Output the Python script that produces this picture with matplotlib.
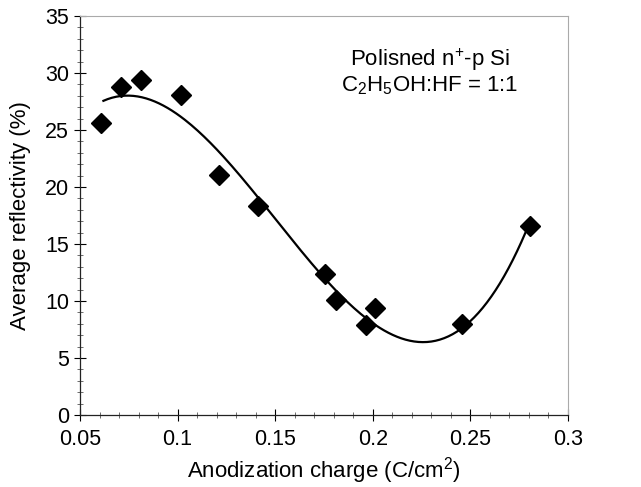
import numpy as np
import matplotlib
matplotlib.use("Agg")
import matplotlib.pyplot as plt
from matplotlib.ticker import MultipleLocator

plt.rcParams['font.family'] = ['Liberation Sans', 'DejaVu Sans']
plt.rcParams['mathtext.fontset'] = 'custom'
plt.rcParams['mathtext.rm'] = 'Liberation Sans'
plt.rcParams['mathtext.it'] = 'Liberation Sans:italic'
plt.rcParams['mathtext.bf'] = 'Liberation Sans:bold'

# Data
charge = [0.061, 0.071, 0.081, 0.102, 0.121, 0.141, 0.1755, 0.181, 0.1965, 0.201, 0.2455, 0.2805]
reflectivity = [25.6, 28.8, 29.4, 28.1, 21.05, 18.3, 12.4, 10.1, 7.9, 9.4, 8.0, 16.6]

xticks = [0.05, 0.1, 0.15, 0.2, 0.25, 0.3]
xticklabels = ['0.05', '0.1', '0.15', '0.2', '0.25', '0.3']
yticks = [0, 5, 10, 15, 20, 25, 30, 35]

fig = plt.figure(figsize=(6.41, 4.87), dpi=100)
ax = fig.add_axes([0.1248, 0.1478, 0.886 - 0.1248, 0.967 - 0.1478])

# cubic trend line fitted to the measurements
coef = np.polyfit(charge, reflectivity, 3)
xfit = np.linspace(0.062, 0.2805, 200)
ax.plot(xfit, np.polyval(coef, xfit), color='black', lw=1.6)

ax.plot(charge, reflectivity, linestyle='none', marker='D', markersize=10.5,
        color='black')

ax.set_xlim(0.05, 0.3)
ax.set_ylim(0, 35)
ax.set_xticks(xticks)
ax.set_xticklabels(xticklabels)
ax.set_yticks(yticks)
ax.xaxis.set_minor_locator(MultipleLocator(0.01))
ax.yaxis.set_minor_locator(MultipleLocator(1))
ax.tick_params(which='major', direction='inout', length=8, width=0.8, labelsize=15.5)
ax.tick_params(axis='x', which='major', pad=6)
ax.tick_params(axis='y', which='major', pad=4)
ax.tick_params(which='minor', direction='inout', length=5, width=0.6, color='#555555')

for s in ['top', 'right']:
    ax.spines[s].set_color('#aaaaaa')
    ax.spines[s].set_linewidth(0.8)
for s in ['left', 'bottom']:
    ax.spines[s].set_color('#222222')
    ax.spines[s].set_linewidth(0.9)

ax.set_xlabel(r'Anodization charge (C/cm$^{2}$)', fontsize=16, labelpad=4)
ax.set_ylabel('Average reflectivity (%)', fontsize=16, labelpad=10)

ax.text(0.717, 0.89, r'Polisned n$^{+}$-p Si', transform=ax.transAxes,
        ha='center', va='center', fontsize=16)
ax.text(0.717, 0.825, r'C$_{2}$H$_{5}$OH:HF = 1:1', transform=ax.transAxes,
        ha='center', va='center', fontsize=16)

fig.savefig('out.png', dpi=100)
